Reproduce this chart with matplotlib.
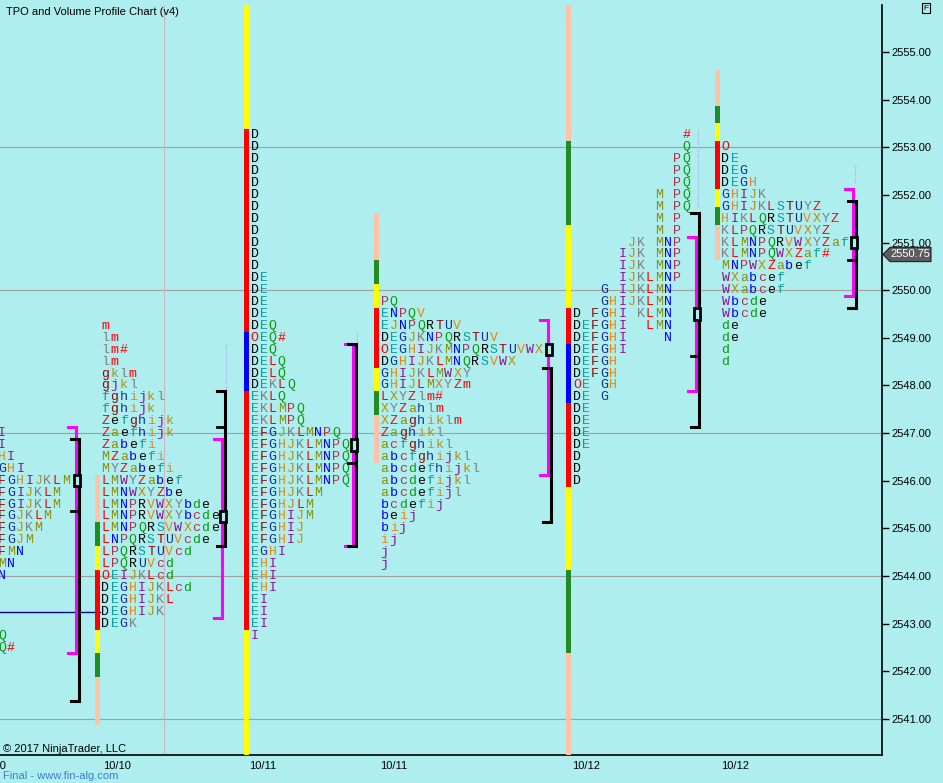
import matplotlib.pyplot as plt

BG = '#AFEEEE'

# ---- values -----------------------------------------------------------
price_ticks = list(range(2541, 2556))
grid_prices = [2541, 2544, 2547, 2550, 2553]
last_price = 2550.75
ib_line_price = 2543.25
session_labels = ["10/10", "10/10", "10/11", "10/11", "10/12", "10/12"]

# TPO letters: each profile is a top price and its rows going down by 0.25
a_top = 2547.0
a_rows = ["I", "I", "HI", "GHI", "FGHIJKLM", "FGIJKLM", "FGIJKLM", "FGJKLM",
          "FGJKM", "FGJM", "FMN", "MN", "N", "", "", "", "", "Q", "Q#"]

b_top = 2549.25
b_rows = ["m", "lm", "lm#", "lm", "gklm", "gjkl", "fghijkl", "fghijk",
          "Zefghijk", "Zaefhijk", "Zabefi", "MZabefi", "MYZabefi",
          "LMWYZabef", "LMNWXYZbe", "LMNPRVWXYbde", "LMNPRVWXYbcde",
          "LMNPQRSVWXcde", "LNPQRSTUVcde", "LPQRSTUVcd", "LPQRUVcd",
          "OEIJKLcd", "DEGHIJKLcd", "DEGHIJKL", "DEGHIJK", "DEGK"]

c_top = 2553.25
c_rows = ["D"] * 12 + ["DE"] * 4 + [
    "DEQ", "OEQ#", "DEQ", "DELQ", "DELQ", "DEKLQ", "EKLQ", "EKLMPQ",
    "EKLMPQ", "EFGJKLMNPQ", "EFGHJKLMNPQ", "EFGHJKLMNPQ", "EFGHJKLMNPQ",
    "EFGHJKLMNPQ", "EFGHJKLM", "EFGHJLM", "EFGHIJM", "EFGHIJ", "EFGHIJ",
    "EGHI", "EHI", "EHI", "EHI", "EI", "EI", "EI", "I"]

d_top = 2549.75
d_rows = ["PQ", "ENPQV", "EJNPQRTUV", "DEGJKNPQRSTUV", "OEGHIJKMNPQRSTUVWX",
          "DGHIJKLMNQRSVWX", "GHIJKLMWXY", "GHIJLMXYZm", "LXYZlm#", "XYZahlm",
          "XZaghiklm", "Zaghikl", "acfghikl", "abcfghijkl", "abcdefhijkl",
          "abcdefijkl", "abcdefijl", "bcdefij", "beij", "bij", "ij", "j", "j"]

e_top = 2553.25
e_rows = ["            #", "            Q", "           PQ", "           PQ",
          "           PQ", "         M PQ", "         M PQ", "         M P",
          "         M P", "      JK MNP", "     IJK MNP", "     IJK MNP",
          "     IJKLMNP", "   G IJKLMN", "   GHIJKLMN", "D FGHI KLMN",
          "DEFGHI  LMN", "DEFGHI    N", "DEFGHI", "DEFGH", "DEFGH", "OE GH",
          "DE G", "DE", "DE", "DE", "DE", "D", "D", "D"]

f_top = 2553.0
f_rows = ["O", "DE", "DEG", "DEGH", "GHIJK", "GHIJKLSTUYZ", "HIKLQRSTUVXYZ",
          "KLPQRSTUVXYZ", "KLMNPQRVWXYZaf", "KLMNPQWXZaf#", "MNPWXZabef",
          "WXabcef", "WXabcef", "Wbcde", "Wbcde", "de", "de", "d", "d"]

# volume profile bar: segment edges (top to bottom) and zone of each segment
b_bar_edges = [2546.125, 2545.125, 2544.625, 2544.125, 2542.875, 2542.375, 2541.875, 2540.875]
b_bar_zones = ["out", "edge", "near", "core", "near", "edge", "out"]
c_bar_edges = [2556.5, 2553.375, 2549.125, 2547.875, 2542.875, 2539.5]
c_bar_zones = ["near", "core", "poc", "core", "near"]
d_bar_edges = [2551.625, 2550.625, 2550.125, 2549.625, 2548.375, 2547.875, 2547.375, 2546.375]
d_bar_zones = ["out", "edge", "near", "core", "near", "edge", "out"]
e_bar_edges = [2556.5, 2553.125, 2551.375, 2549.625, 2548.875, 2547.625,
               2545.875, 2544.125, 2542.375, 2539.5]
e_bar_zones = ["out", "edge", "near", "core", "poc", "core", "near", "edge", "out"]
f_bar_edges = [2554.625, 2553.875, 2553.5, 2553.125, 2552.125, 2551.75, 2551.375, 2550.625]
f_bar_zones = ["out", "edge", "near", "core", "near", "edge", "out"]

# value areas (high, low), extra volume tick, point of control
tpo_va = [(2547.125, 2542.375), (2546.875, 2543.125), (2548.875, 2544.625),
          (2549.375, 2546.125), (2551.125, 2547.875), (2552.125, 2549.875)]
vol_va = [(2546.875, 2541.375), (2547.875, 2544.625), (2548.875, 2544.625),
          (2548.375, 2545.125), (2551.625, 2547.125), (2551.875, 2549.625)]
vol_tick = [2545.375, 2547.125, 2546.375, None, 2548.625, 2550.625]
poc = [2546.0, 2545.25, 2546.75, 2548.75, 2549.5, 2551.0]

# thin wick marks (high, low)
wick_hi = [2548.875, 2549.125, 2553.375, 2552.625]
wick_lo = [2547.875, 2548.875, 2551.75, 2552.25]

# ---- layout (pixel-like x units) --------------------------------------
profiles = [(a_top, a_rows), (b_top, b_rows), (c_top, c_rows),
            (d_top, d_rows), (e_top, e_rows), (f_top, f_rows)]
bars = [None, (b_bar_edges, b_bar_zones), (c_bar_edges, c_bar_zones),
        (d_bar_edges, d_bar_zones), (e_bar_edges, e_bar_zones),
        (f_bar_edges, f_bar_zones)]
col0 = [-2, 101.5, 250.5, 380.5, 573, 721.5]
bracket_x = [76, 222, 353, 548, 696, 853]
wick_x = [226, 357, 698, 855]
label_x = [-8, 117, 263, 394, 586, 735]
col_w = 9.1
step = 0.25

zone_colors = {"out": '#FFC2A6', "edge": '#228B22', "near": '#FFFF00',
               "core": '#FF0000', "poc": '#0000FF'}
order = "DEFGHIJKLMNPQRSTUVWXYZabcdefghijklm"
cycle = ['#000000', '#119c9c', '#8b0a0a', '#142c9a', '#e8870e', '#8a128e',
         '#b8900c', '#808080', '#ff0000', '#8c8c00', '#0000ff', '#b0304a',
         '#0a9a0a']


def letter_color(ch):
    if ch in "O#":
        return '#ff0000'
    return cycle[order.index(ch) % len(cycle)]


fig = plt.figure(figsize=(9.43, 7.83), dpi=100, facecolor=BG)
ax = fig.add_axes([0, 28 / 783, 882 / 943, 750 / 783])
ax.set_facecolor(BG)
ax.set_xlim(0, 882)
ax.set_ylim(2540.244, 2555.986)

for p in grid_prices:
    ax.axhline(p, color='#a0a0a0', lw=0.8, zorder=1)
ax.axvline(164, color='#cdb6be', lw=0.8, zorder=1)
ax.plot([0, 100], [ib_line_price, ib_line_price], color='#000080', lw=1, zorder=2)

for k, (top, rows) in enumerate(profiles):
    x0 = col0[k]
    for i, row in enumerate(rows):
        y = top - i * step
        for j, ch in enumerate(row):
            if ch == ' ':
                continue
            ax.text(x0 + j * col_w, y, ch, color=letter_color(ch), fontsize=9.5,
                    family='Liberation Mono', ha='left', va='center',
                    clip_on=True, zorder=4)
    if bars[k] is not None:
        edges, zones = bars[k]
        for t, b, z in zip(edges[:-1], edges[1:], zones):
            ax.bar(x0 - 4.5, t - b, bottom=b, width=5, color=zone_colors[z],
                   lw=0, zorder=3)

for k in range(len(poc)):
    xm = bracket_x[k]
    hi, lo = tpo_va[k]
    ax.plot([xm - 8, xm, xm, xm - 8], [hi, hi, lo, lo], color='#ff00ff',
            lw=2.2, solid_joinstyle='miter', zorder=5)
    hi, lo = vol_va[k]
    xb = xm + 3
    ax.plot([xb - 8, xb, xb, xb - 8], [hi, hi, lo, lo], color='black',
            lw=2.2, solid_joinstyle='miter', zorder=5)
    if vol_tick[k] is not None:
        ax.plot([xb - 8, xb], [vol_tick[k]] * 2, color='black', lw=2, zorder=5)
    ax.add_patch(plt.Rectangle((xm - 2, poc[k] - 0.12), 6, 0.24, fc=BG,
                               ec='black', lw=2, zorder=6))

for x, hi, lo in zip(wick_x, wick_hi, wick_lo):
    ax.plot([x, x], [lo, hi], color='#b4c4f0', lw=1, ls=(0, (4, 1)), zorder=2)

# axes styling
for s in ['left', 'top']:
    ax.spines[s].set_visible(False)
for s in ['right', 'bottom']:
    ax.spines[s].set_color('black')
    ax.spines[s].set_linewidth(1.2)
ax.yaxis.tick_right()
ax.set_yticks(price_ticks)
ax.set_yticklabels([f"{p:.2f}" for p in price_ticks], family='Liberation Sans',
                   fontsize=8)
ax.tick_params(axis='y', length=5, width=1, pad=2)
ax.set_xticks([])

trans = ax.get_xaxis_transform()
for x, lab in zip(label_x, session_labels):
    ax.text(x, -0.0147, lab, transform=trans, ha='center', va='center',
            fontsize=8, family='Liberation Sans', clip_on=False)

# last price marker
h = 0.15
ax.add_patch(plt.Polygon([(883, last_price), (890, last_price + h), (931, last_price + h),
                          (931, last_price - h), (890, last_price - h)], closed=True,
                         fc='#5c5c5c', ec='#202020', lw=0.8, clip_on=False, zorder=7))
ax.text(910, last_price, f"{last_price:.2f}", color='white', fontsize=8,
        family='Liberation Sans', ha='center', va='center', clip_on=False, zorder=8)

ax.text(3, 2540.38, "\u00a9 2017 NinjaTrader, LLC", fontsize=8,
        family='Liberation Sans', ha='left', va='center', zorder=8)
fig.text(6 / 943, 1 - 12 / 783, "TPO and Volume Profile Chart (v4)", fontsize=8,
         family='Liberation Sans', ha='left', va='center')
fig.text(3 / 943, 1 - 776 / 783, "Final - www.fin-alg.com", fontsize=8,
         family='Liberation Sans', color='#3c7fcf', ha='left', va='center')
fig.text(926 / 943, 1 - 8 / 783, "F", fontsize=6, family='Liberation Sans',
         ha='center', va='center',
         bbox=dict(boxstyle='square,pad=0.15', fc=BG, ec='black', lw=0.8))

fig.savefig('out.png', dpi=100, facecolor=BG)
